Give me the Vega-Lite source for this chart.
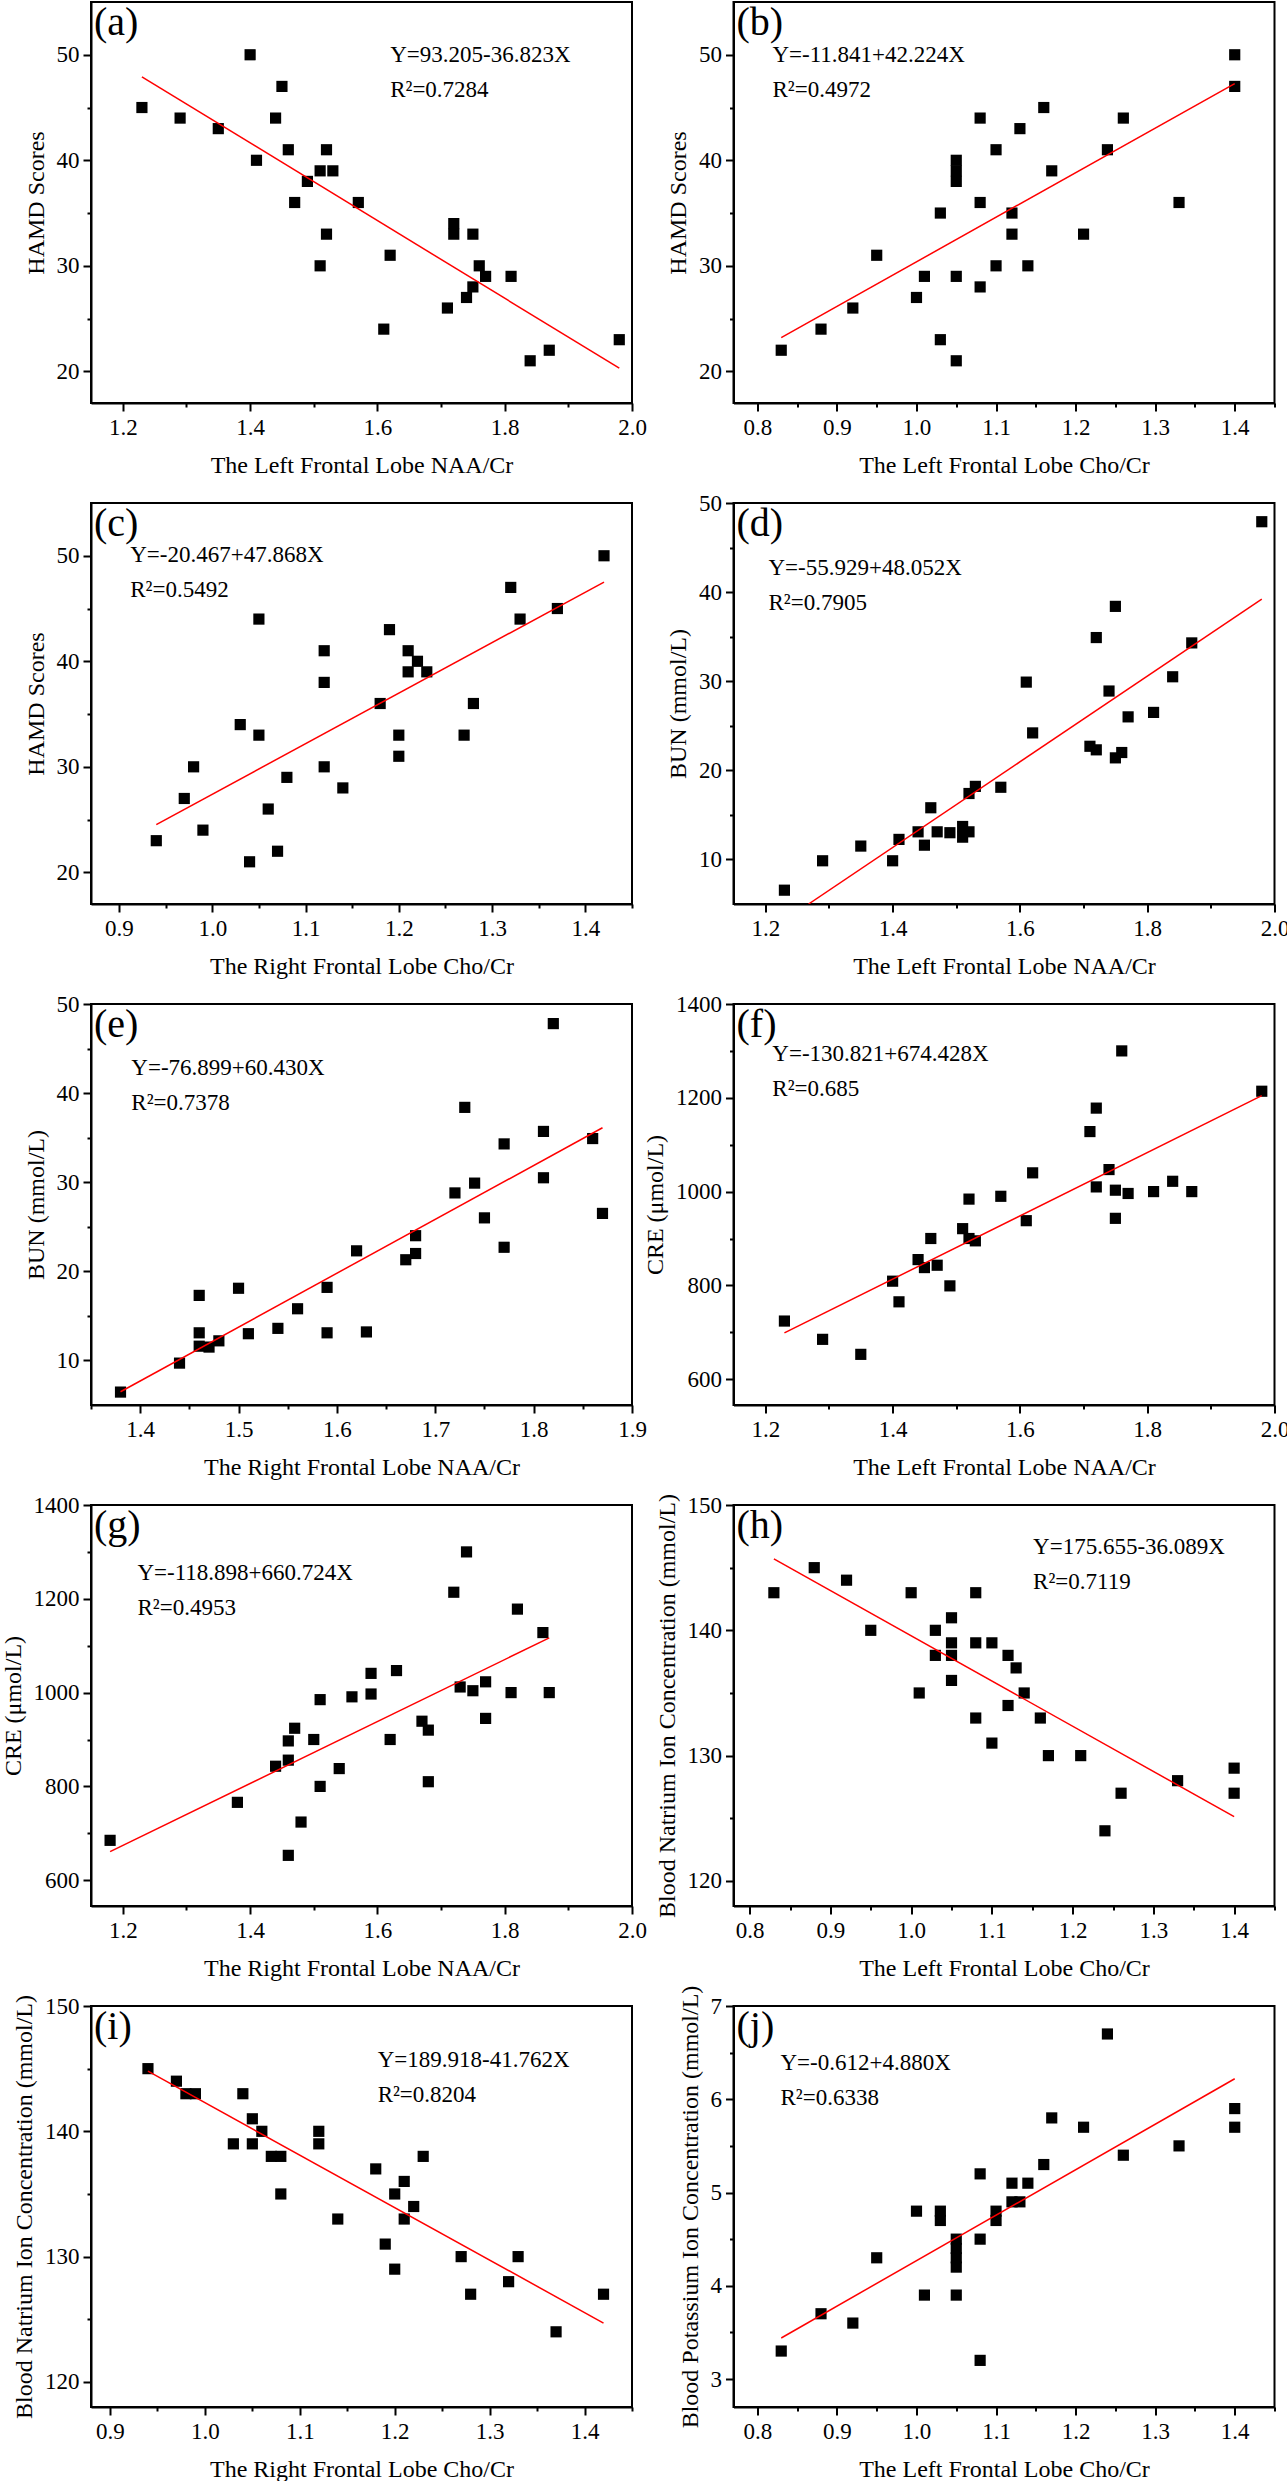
{
"$schema": "https://vega.github.io/schema/vega-lite/v6.json",
"padding": {"left": 0, "top": 1, "right": 2, "bottom": 2},
"autosize": {"type": "pad"},
"columns": 2,
"bounds": "flush",
"spacing": {"row": 100, "column": 101.5},
"datasets": {
"a": [{"x":1.23,"y":45},{"x":1.29,"y":44},{"x":1.35,"y":43},{"x":1.40,"y":50},{"x":1.41,"y":40},{"x":1.44,"y":44},{"x":1.45,"y":47},{"x":1.46,"y":41},{"x":1.47,"y":36},{"x":1.49,"y":38},{"x":1.51,"y":39},{"x":1.51,"y":30},{"x":1.52,"y":41},{"x":1.52,"y":33},{"x":1.53,"y":39},{"x":1.57,"y":36},{"x":1.61,"y":24},{"x":1.62,"y":31},{"x":1.71,"y":26},{"x":1.72,"y":34},{"x":1.72,"y":33},{"x":1.74,"y":27},{"x":1.75,"y":33},{"x":1.75,"y":28},{"x":1.76,"y":30},{"x":1.77,"y":29},{"x":1.81,"y":29},{"x":1.84,"y":21},{"x":1.87,"y":22},{"x":1.98,"y":23}],
"a_fit": [{"x":1.23,"y":47.91},{"x":1.98,"y":20.30}],
"b": [{"x":0.83,"y":22},{"x":0.88,"y":24},{"x":0.92,"y":26},{"x":0.95,"y":31},{"x":1.00,"y":27},{"x":1.01,"y":29},{"x":1.03,"y":35},{"x":1.03,"y":23},{"x":1.05,"y":40},{"x":1.05,"y":39},{"x":1.05,"y":38},{"x":1.05,"y":29},{"x":1.05,"y":21},{"x":1.08,"y":44},{"x":1.08,"y":36},{"x":1.08,"y":28},{"x":1.10,"y":41},{"x":1.10,"y":30},{"x":1.12,"y":35},{"x":1.12,"y":33},{"x":1.13,"y":43},{"x":1.14,"y":30},{"x":1.16,"y":45},{"x":1.17,"y":39},{"x":1.21,"y":33},{"x":1.24,"y":41},{"x":1.26,"y":44},{"x":1.33,"y":36},{"x":1.40,"y":50},{"x":1.40,"y":47}],
"b_fit": [{"x":0.83,"y":23.20},{"x":1.40,"y":47.27}],
"c": [{"x":0.94,"y":23},{"x":0.97,"y":27},{"x":0.98,"y":30},{"x":0.99,"y":24},{"x":1.03,"y":34},{"x":1.04,"y":21},{"x":1.05,"y":44},{"x":1.05,"y":33},{"x":1.06,"y":26},{"x":1.07,"y":22},{"x":1.08,"y":29},{"x":1.12,"y":41},{"x":1.12,"y":38},{"x":1.12,"y":30},{"x":1.14,"y":28},{"x":1.18,"y":36},{"x":1.19,"y":43},{"x":1.20,"y":33},{"x":1.20,"y":31},{"x":1.21,"y":41},{"x":1.21,"y":39},{"x":1.22,"y":40},{"x":1.23,"y":39},{"x":1.27,"y":33},{"x":1.28,"y":36},{"x":1.32,"y":47},{"x":1.33,"y":44},{"x":1.37,"y":45},{"x":1.42,"y":50}],
"c_fit": [{"x":0.94,"y":24.53},{"x":1.42,"y":47.51}],
"d": [{"x":1.23,"y":6.55},{"x":1.29,"y":9.85},{"x":1.35,"y":11.5},{"x":1.40,"y":9.85},{"x":1.41,"y":12.25},{"x":1.44,"y":13.1},{"x":1.45,"y":11.6},{"x":1.46,"y":15.8},{"x":1.47,"y":13.1},{"x":1.49,"y":13.0},{"x":1.51,"y":13.7},{"x":1.51,"y":12.5},{"x":1.52,"y":17.4},{"x":1.52,"y":13.1},{"x":1.53,"y":18.2},{"x":1.57,"y":18.1},{"x":1.61,"y":29.9},{"x":1.62,"y":24.2},{"x":1.71,"y":22.7},{"x":1.72,"y":34.9},{"x":1.72,"y":22.3},{"x":1.74,"y":28.9},{"x":1.75,"y":38.4},{"x":1.75,"y":21.4},{"x":1.76,"y":22.0},{"x":1.77,"y":26.0},{"x":1.81,"y":26.5},{"x":1.84,"y":30.5},{"x":1.87,"y":34.3},{"x":1.98,"y":47.9}],
"d_fit": [{"x":1.268,"y":5.0},{"x":1.98,"y":39.21}],
"e": [{"x":1.38,"y":6.45},{"x":1.44,"y":9.7},{"x":1.46,"y":17.3},{"x":1.46,"y":13.1},{"x":1.46,"y":11.6},{"x":1.47,"y":11.5},{"x":1.48,"y":12.2},{"x":1.50,"y":18.1},{"x":1.51,"y":13.0},{"x":1.54,"y":13.6},{"x":1.56,"y":15.8},{"x":1.59,"y":13.1},{"x":1.59,"y":18.2},{"x":1.62,"y":22.3},{"x":1.63,"y":13.2},{"x":1.67,"y":21.3},{"x":1.68,"y":24.0},{"x":1.68,"y":22.0},{"x":1.72,"y":28.8},{"x":1.73,"y":38.4},{"x":1.74,"y":29.9},{"x":1.75,"y":26.0},{"x":1.77,"y":34.3},{"x":1.77,"y":22.7},{"x":1.81,"y":35.7},{"x":1.81,"y":30.5},{"x":1.82,"y":47.8},{"x":1.86,"y":34.9},{"x":1.87,"y":26.5}],
"e_fit": [{"x":1.38,"y":6.49},{"x":1.87,"y":36.11}],
"f": [{"x":1.23,"y":724},{"x":1.29,"y":685},{"x":1.35,"y":653},{"x":1.40,"y":809},{"x":1.41,"y":765},{"x":1.44,"y":855},{"x":1.45,"y":838},{"x":1.46,"y":900},{"x":1.47,"y":843},{"x":1.49,"y":799},{"x":1.51,"y":921},{"x":1.52,"y":984},{"x":1.52,"y":900},{"x":1.53,"y":895},{"x":1.57,"y":990},{"x":1.61,"y":938},{"x":1.62,"y":1040},{"x":1.71,"y":1128},{"x":1.72,"y":1178},{"x":1.72,"y":1010},{"x":1.74,"y":1047},{"x":1.76,"y":1300},{"x":1.75,"y":1003},{"x":1.75,"y":943},{"x":1.77,"y":996},{"x":1.81,"y":1000},{"x":1.84,"y":1022},{"x":1.87,"y":1000},{"x":1.98,"y":1214}],
"f_fit": [{"x":1.23,"y":698.7},{"x":1.98,"y":1204.5}],
"g": [{"x":1.18,"y":685},{"x":1.38,"y":766},{"x":1.44,"y":843},{"x":1.46,"y":897},{"x":1.46,"y":856},{"x":1.46,"y":653},{"x":1.47,"y":924},{"x":1.48,"y":724},{"x":1.50,"y":900},{"x":1.51,"y":985},{"x":1.51,"y":800},{"x":1.54,"y":838},{"x":1.56,"y":991},{"x":1.59,"y":1041},{"x":1.59,"y":997},{"x":1.62,"y":900},{"x":1.63,"y":1047},{"x":1.67,"y":939},{"x":1.68,"y":920},{"x":1.68,"y":810},{"x":1.72,"y":1214},{"x":1.73,"y":1012},{"x":1.74,"y":1300},{"x":1.75,"y":1004},{"x":1.77,"y":1023},{"x":1.77,"y":945},{"x":1.81,"y":1000},{"x":1.82,"y":1178},{"x":1.86,"y":1128},{"x":1.87,"y":1000}],
"g_fit": [{"x":1.18,"y":660.8},{"x":1.87,"y":1116.7}],
"h": [{"x":0.83,"y":143},{"x":0.88,"y":145},{"x":0.92,"y":144},{"x":0.95,"y":140},{"x":1.00,"y":143},{"x":1.01,"y":135},{"x":1.03,"y":140},{"x":1.03,"y":138},{"x":1.05,"y":141},{"x":1.05,"y":139},{"x":1.05,"y":138},{"x":1.05,"y":136},{"x":1.08,"y":143},{"x":1.08,"y":139},{"x":1.08,"y":133},{"x":1.10,"y":139},{"x":1.10,"y":131},{"x":1.12,"y":138},{"x":1.12,"y":134},{"x":1.13,"y":137},{"x":1.14,"y":135},{"x":1.16,"y":133},{"x":1.17,"y":130},{"x":1.21,"y":130},{"x":1.24,"y":124},{"x":1.26,"y":127},{"x":1.33,"y":128},{"x":1.40,"y":129},{"x":1.40,"y":127}],
"h_fit": [{"x":0.83,"y":145.70},{"x":1.40,"y":125.13}],
"i": [{"x":0.94,"y":145},{"x":0.97,"y":144},{"x":0.98,"y":143},{"x":0.99,"y":143},{"x":1.03,"y":139},{"x":1.04,"y":143},{"x":1.05,"y":141},{"x":1.05,"y":139},{"x":1.06,"y":140},{"x":1.07,"y":138},{"x":1.08,"y":138},{"x":1.08,"y":135},{"x":1.12,"y":140},{"x":1.12,"y":139},{"x":1.14,"y":133},{"x":1.18,"y":137},{"x":1.19,"y":131},{"x":1.20,"y":135},{"x":1.20,"y":129},{"x":1.21,"y":136},{"x":1.21,"y":133},{"x":1.22,"y":134},{"x":1.23,"y":138},{"x":1.27,"y":130},{"x":1.28,"y":127},{"x":1.32,"y":128},{"x":1.33,"y":130},{"x":1.37,"y":124},{"x":1.42,"y":127}],
"i_fit": [{"x":0.94,"y":144.8},{"x":1.42,"y":124.7}],
"j": [{"x":0.83,"y":3.3},{"x":0.88,"y":3.7},{"x":0.92,"y":3.6},{"x":0.95,"y":4.3},{"x":1.00,"y":4.8},{"x":1.01,"y":3.9},{"x":1.03,"y":4.8},{"x":1.03,"y":4.7},{"x":1.05,"y":4.5},{"x":1.05,"y":4.4},{"x":1.05,"y":4.3},{"x":1.05,"y":4.2},{"x":1.05,"y":3.9},{"x":1.08,"y":5.2},{"x":1.08,"y":4.5},{"x":1.08,"y":3.2},{"x":1.10,"y":4.8},{"x":1.10,"y":4.7},{"x":1.12,"y":5.1},{"x":1.12,"y":4.9},{"x":1.13,"y":4.9},{"x":1.14,"y":5.1},{"x":1.16,"y":5.3},{"x":1.17,"y":5.8},{"x":1.21,"y":5.7},{"x":1.24,"y":6.7},{"x":1.26,"y":5.4},{"x":1.33,"y":5.5},{"x":1.40,"y":5.9},{"x":1.40,"y":5.7}],
"j_fit": [{"x":0.83,"y":3.44},{"x":1.40,"y":6.22}]
},
"concat": [
{"width": 541, "height": 401, "layer": [
 {"data": {"name": "a"}, "mark": {"type": "square", "size": 125, "color": "#000", "opacity": 1},
  "encoding": {
   "x": {"field": "x", "type": "quantitative", "scale": {"domain": [1.15, 2.0], "nice": false, "zero": false}, "axis": {"title": "The Left Frontal Lobe NAA/Cr", "values": [1.2,1.3,1.4,1.5,1.6,1.7,1.8,1.9,2.0], "labelExpr": "abs(datum.value*5-round(datum.value*5))<0.001 ? format(datum.value,'.1f') : ''", "tickSize": {"condition": {"test": "abs(datum.value*5-round(datum.value*5))<0.001", "value": 8}, "value": 4}}},
   "y": {"field": "y", "type": "quantitative", "scale": {"domain": [17, 55], "nice": false, "zero": false}, "axis": {"title": "HAMD Scores", "values": [20,25,30,35,40,45,50], "labelExpr": "datum.value%10==0 ? format(datum.value,'d') : ''", "tickSize": {"condition": {"test": "datum.value%10==0", "value": 8}, "value": 4}}}}},
 {"data": {"name": "a_fit"}, "mark": {"type": "line", "color": "#ff0000", "strokeWidth": 1.5}, "encoding": {"x": {"field": "x", "type": "quantitative"}, "y": {"field": "y", "type": "quantitative"}}},
 {"data": {"values": [{}]}, "mark": {"type": "text", "align": "left", "baseline": "top", "fontSize": 23, "lineHeight": 35, "color": "#000"}, "encoding": {"x": {"datum": 1.62}, "y": {"datum": 51.0}, "text": {"value": ["Y=93.205-36.823X", "R²=0.7284"]}}},
 {"data": {"values": [{}]}, "mark": {"type": "text", "align": "left", "baseline": "top", "fontSize": 40, "dx": 3, "dy": 1, "color": "#000"}, "encoding": {"x": {"datum": 1.15}, "y": {"datum": 55}, "text": {"value": "(a)"}}}
]},
{"width": 541, "height": 401, "layer": [
 {"data": {"name": "b"}, "mark": {"type": "square", "size": 125, "color": "#000", "opacity": 1},
  "encoding": {
   "x": {"field": "x", "type": "quantitative", "scale": {"domain": [0.77, 1.45], "nice": false, "zero": false}, "axis": {"title": "The Left Frontal Lobe Cho/Cr", "values": [0.8,0.85,0.9,0.95,1.0,1.05,1.1,1.15,1.2,1.25,1.3,1.35,1.4,1.45], "labelExpr": "abs(datum.value*10-round(datum.value*10))<0.001 ? format(datum.value,'.1f') : ''", "tickSize": {"condition": {"test": "abs(datum.value*10-round(datum.value*10))<0.001", "value": 8}, "value": 4}}},
   "y": {"field": "y", "type": "quantitative", "scale": {"domain": [17, 55], "nice": false, "zero": false}, "axis": {"title": "HAMD Scores", "values": [20,25,30,35,40,45,50], "labelExpr": "datum.value%10==0 ? format(datum.value,'d') : ''", "tickSize": {"condition": {"test": "datum.value%10==0", "value": 8}, "value": 4}}}}},
 {"data": {"name": "b_fit"}, "mark": {"type": "line", "color": "#ff0000", "strokeWidth": 1.5}, "encoding": {"x": {"field": "x", "type": "quantitative"}, "y": {"field": "y", "type": "quantitative"}}},
 {"data": {"values": [{}]}, "mark": {"type": "text", "align": "left", "baseline": "top", "fontSize": 23, "lineHeight": 35, "color": "#000"}, "encoding": {"x": {"datum": 0.819}, "y": {"datum": 51.0}, "text": {"value": ["Y=-11.841+42.224X", "R²=0.4972"]}}},
 {"data": {"values": [{}]}, "mark": {"type": "text", "align": "left", "baseline": "top", "fontSize": 40, "dx": 3, "dy": 1, "color": "#000"}, "encoding": {"x": {"datum": 0.77}, "y": {"datum": 55}, "text": {"value": "(b)"}}}
]},
{"width": 541, "height": 401, "layer": [
 {"data": {"name": "c"}, "mark": {"type": "square", "size": 125, "color": "#000", "opacity": 1},
  "encoding": {
   "x": {"field": "x", "type": "quantitative", "scale": {"domain": [0.87, 1.45], "nice": false, "zero": false}, "axis": {"title": "The Right Frontal Lobe Cho/Cr", "values": [0.9,0.95,1.0,1.05,1.1,1.15,1.2,1.25,1.3,1.35,1.4,1.45], "labelExpr": "abs(datum.value*10-round(datum.value*10))<0.001 ? format(datum.value,'.1f') : ''", "tickSize": {"condition": {"test": "abs(datum.value*10-round(datum.value*10))<0.001", "value": 8}, "value": 4}}},
   "y": {"field": "y", "type": "quantitative", "scale": {"domain": [17, 55], "nice": false, "zero": false}, "axis": {"title": "HAMD Scores", "values": [20,25,30,35,40,45,50], "labelExpr": "datum.value%10==0 ? format(datum.value,'d') : ''", "tickSize": {"condition": {"test": "datum.value%10==0", "value": 8}, "value": 4}}}}},
 {"data": {"name": "c_fit"}, "mark": {"type": "line", "color": "#ff0000", "strokeWidth": 1.5}, "encoding": {"x": {"field": "x", "type": "quantitative"}, "y": {"field": "y", "type": "quantitative"}}},
 {"data": {"values": [{}]}, "mark": {"type": "text", "align": "left", "baseline": "top", "fontSize": 23, "lineHeight": 35, "color": "#000"}, "encoding": {"x": {"datum": 0.912}, "y": {"datum": 51.07}, "text": {"value": ["Y=-20.467+47.868X", "R²=0.5492"]}}},
 {"data": {"values": [{}]}, "mark": {"type": "text", "align": "left", "baseline": "top", "fontSize": 40, "dx": 3, "dy": 1, "color": "#000"}, "encoding": {"x": {"datum": 0.87}, "y": {"datum": 55}, "text": {"value": "(c)"}}}
]},
{"width": 541, "height": 401, "layer": [
 {"data": {"name": "d"}, "mark": {"type": "square", "size": 125, "color": "#000", "opacity": 1},
  "encoding": {
   "x": {"field": "x", "type": "quantitative", "scale": {"domain": [1.15, 2.0], "nice": false, "zero": false}, "axis": {"title": "The Left Frontal Lobe NAA/Cr", "values": [1.2,1.3,1.4,1.5,1.6,1.7,1.8,1.9,2.0], "labelExpr": "abs(datum.value*5-round(datum.value*5))<0.001 ? format(datum.value,'.1f') : ''", "tickSize": {"condition": {"test": "abs(datum.value*5-round(datum.value*5))<0.001", "value": 8}, "value": 4}}},
   "y": {"field": "y", "type": "quantitative", "scale": {"domain": [5, 50], "nice": false, "zero": false}, "axis": {"title": "BUN (mmol/L)", "values": [10,15,20,25,30,35,40,45,50], "labelExpr": "datum.value%10==0 ? format(datum.value,'d') : ''", "tickSize": {"condition": {"test": "datum.value%10==0", "value": 8}, "value": 4}}}}},
 {"data": {"name": "d_fit"}, "mark": {"type": "line", "color": "#ff0000", "strokeWidth": 1.5, "clip": true}, "encoding": {"x": {"field": "x", "type": "quantitative"}, "y": {"field": "y", "type": "quantitative"}}},
 {"data": {"values": [{}]}, "mark": {"type": "text", "align": "left", "baseline": "top", "fontSize": 23, "lineHeight": 35, "color": "#000"}, "encoding": {"x": {"datum": 1.205}, "y": {"datum": 43.97}, "text": {"value": ["Y=-55.929+48.052X", "R²=0.7905"]}}},
 {"data": {"values": [{}]}, "mark": {"type": "text", "align": "left", "baseline": "top", "fontSize": 40, "dx": 3, "dy": 1, "color": "#000"}, "encoding": {"x": {"datum": 1.15}, "y": {"datum": 50}, "text": {"value": "(d)"}}}
]},
{"width": 541, "height": 401, "layer": [
 {"data": {"name": "e"}, "mark": {"type": "square", "size": 125, "color": "#000", "opacity": 1},
  "encoding": {
   "x": {"field": "x", "type": "quantitative", "scale": {"domain": [1.35, 1.9], "nice": false, "zero": false}, "axis": {"title": "The Right Frontal Lobe NAA/Cr", "values": [1.35,1.4,1.45,1.5,1.55,1.6,1.65,1.7,1.75,1.8,1.85,1.9], "labelExpr": "abs(datum.value*10-round(datum.value*10))<0.001 ? format(datum.value,'.1f') : ''", "tickSize": {"condition": {"test": "abs(datum.value*10-round(datum.value*10))<0.001", "value": 8}, "value": 4}}},
   "y": {"field": "y", "type": "quantitative", "scale": {"domain": [5, 50], "nice": false, "zero": false}, "axis": {"title": "BUN (mmol/L)", "values": [10,15,20,25,30,35,40,45,50], "labelExpr": "datum.value%10==0 ? format(datum.value,'d') : ''", "tickSize": {"condition": {"test": "datum.value%10==0", "value": 8}, "value": 4}}}}},
 {"data": {"name": "e_fit"}, "mark": {"type": "line", "color": "#ff0000", "strokeWidth": 1.5}, "encoding": {"x": {"field": "x", "type": "quantitative"}, "y": {"field": "y", "type": "quantitative"}}},
 {"data": {"values": [{}]}, "mark": {"type": "text", "align": "left", "baseline": "top", "fontSize": 23, "lineHeight": 35, "color": "#000"}, "encoding": {"x": {"datum": 1.391}, "y": {"datum": 44.1}, "text": {"value": ["Y=-76.899+60.430X", "R²=0.7378"]}}},
 {"data": {"values": [{}]}, "mark": {"type": "text", "align": "left", "baseline": "top", "fontSize": 40, "dx": 3, "dy": 1, "color": "#000"}, "encoding": {"x": {"datum": 1.35}, "y": {"datum": 50}, "text": {"value": "(e)"}}}
]},
{"width": 541, "height": 401, "layer": [
 {"data": {"name": "f"}, "mark": {"type": "square", "size": 125, "color": "#000", "opacity": 1},
  "encoding": {
   "x": {"field": "x", "type": "quantitative", "scale": {"domain": [1.15, 2.0], "nice": false, "zero": false}, "axis": {"title": "The Left Frontal Lobe NAA/Cr", "values": [1.2,1.3,1.4,1.5,1.6,1.7,1.8,1.9,2.0], "labelExpr": "abs(datum.value*5-round(datum.value*5))<0.001 ? format(datum.value,'.1f') : ''", "tickSize": {"condition": {"test": "abs(datum.value*5-round(datum.value*5))<0.001", "value": 8}, "value": 4}}},
   "y": {"field": "y", "type": "quantitative", "scale": {"domain": [545, 1400], "nice": false, "zero": false}, "axis": {"title": "CRE (μmol/L)", "values": [600,700,800,900,1000,1100,1200,1300,1400], "labelExpr": "datum.value%200==0 ? format(datum.value,'d') : ''", "tickSize": {"condition": {"test": "datum.value%200==0", "value": 8}, "value": 4}}}}},
 {"data": {"name": "f_fit"}, "mark": {"type": "line", "color": "#ff0000", "strokeWidth": 1.5}, "encoding": {"x": {"field": "x", "type": "quantitative"}, "y": {"field": "y", "type": "quantitative"}}},
 {"data": {"values": [{}]}, "mark": {"type": "text", "align": "left", "baseline": "top", "fontSize": 23, "lineHeight": 35, "color": "#000"}, "encoding": {"x": {"datum": 1.211}, "y": {"datum": 1317}, "text": {"value": ["Y=-130.821+674.428X", "R²=0.685"]}}},
 {"data": {"values": [{}]}, "mark": {"type": "text", "align": "left", "baseline": "top", "fontSize": 40, "dx": 3, "dy": 1, "color": "#000"}, "encoding": {"x": {"datum": 1.15}, "y": {"datum": 1400}, "text": {"value": "(f)"}}}
]},
{"width": 541, "height": 401, "layer": [
 {"data": {"name": "g"}, "mark": {"type": "square", "size": 125, "color": "#000", "opacity": 1},
  "encoding": {
   "x": {"field": "x", "type": "quantitative", "scale": {"domain": [1.15, 2.0], "nice": false, "zero": false}, "axis": {"title": "The Right Frontal Lobe NAA/Cr", "values": [1.2,1.3,1.4,1.5,1.6,1.7,1.8,1.9,2.0], "labelExpr": "abs(datum.value*5-round(datum.value*5))<0.001 ? format(datum.value,'.1f') : ''", "tickSize": {"condition": {"test": "abs(datum.value*5-round(datum.value*5))<0.001", "value": 8}, "value": 4}}},
   "y": {"field": "y", "type": "quantitative", "scale": {"domain": [545, 1400], "nice": false, "zero": false}, "axis": {"title": "CRE (μmol/L)", "values": [600,700,800,900,1000,1100,1200,1300,1400], "labelExpr": "datum.value%200==0 ? format(datum.value,'d') : ''", "tickSize": {"condition": {"test": "datum.value%200==0", "value": 8}, "value": 4}}}}},
 {"data": {"name": "g_fit"}, "mark": {"type": "line", "color": "#ff0000", "strokeWidth": 1.5}, "encoding": {"x": {"field": "x", "type": "quantitative"}, "y": {"field": "y", "type": "quantitative"}}},
 {"data": {"values": [{}]}, "mark": {"type": "text", "align": "left", "baseline": "top", "fontSize": 23, "lineHeight": 35, "color": "#000"}, "encoding": {"x": {"datum": 1.223}, "y": {"datum": 1278}, "text": {"value": ["Y=-118.898+660.724X", "R²=0.4953"]}}},
 {"data": {"values": [{}]}, "mark": {"type": "text", "align": "left", "baseline": "top", "fontSize": 40, "dx": 3, "dy": 1, "color": "#000"}, "encoding": {"x": {"datum": 1.15}, "y": {"datum": 1400}, "text": {"value": "(g)"}}}
]},
{"width": 541, "height": 401, "layer": [
 {"data": {"name": "h"}, "mark": {"type": "square", "size": 125, "color": "#000", "opacity": 1},
  "encoding": {
   "x": {"field": "x", "type": "quantitative", "scale": {"domain": [0.78, 1.45], "nice": false, "zero": false}, "axis": {"title": "The Left Frontal Lobe Cho/Cr", "values": [0.8,0.85,0.9,0.95,1.0,1.05,1.1,1.15,1.2,1.25,1.3,1.35,1.4,1.45], "labelExpr": "abs(datum.value*10-round(datum.value*10))<0.001 ? format(datum.value,'.1f') : ''", "tickSize": {"condition": {"test": "abs(datum.value*10-round(datum.value*10))<0.001", "value": 8}, "value": 4}}},
   "y": {"field": "y", "type": "quantitative", "scale": {"domain": [118, 150], "nice": false, "zero": false}, "axis": {"title": "Blood Natrium Ion Concentration (mmol/L)", "values": [120,125,130,135,140,145,150], "labelExpr": "datum.value%10==0 ? format(datum.value,'d') : ''", "tickSize": {"condition": {"test": "datum.value%10==0", "value": 8}, "value": 4}}}}},
 {"data": {"name": "h_fit"}, "mark": {"type": "line", "color": "#ff0000", "strokeWidth": 1.5}, "encoding": {"x": {"field": "x", "type": "quantitative"}, "y": {"field": "y", "type": "quantitative"}}},
 {"data": {"values": [{}]}, "mark": {"type": "text", "align": "left", "baseline": "top", "fontSize": 23, "lineHeight": 35, "color": "#000"}, "encoding": {"x": {"datum": 1.151}, "y": {"datum": 147.5}, "text": {"value": ["Y=175.655-36.089X", "R²=0.7119"]}}},
 {"data": {"values": [{}]}, "mark": {"type": "text", "align": "left", "baseline": "top", "fontSize": 40, "dx": 3, "dy": 1, "color": "#000"}, "encoding": {"x": {"datum": 0.78}, "y": {"datum": 150}, "text": {"value": "(h)"}}}
]},
{"width": 541, "height": 401, "layer": [
 {"data": {"name": "i"}, "mark": {"type": "square", "size": 125, "color": "#000", "opacity": 1},
  "encoding": {
   "x": {"field": "x", "type": "quantitative", "scale": {"domain": [0.88, 1.45], "nice": false, "zero": false}, "axis": {"title": "The Right Frontal Lobe Cho/Cr", "values": [0.9,0.95,1.0,1.05,1.1,1.15,1.2,1.25,1.3,1.35,1.4,1.45], "labelExpr": "abs(datum.value*10-round(datum.value*10))<0.001 ? format(datum.value,'.1f') : ''", "tickSize": {"condition": {"test": "abs(datum.value*10-round(datum.value*10))<0.001", "value": 8}, "value": 4}}},
   "y": {"field": "y", "type": "quantitative", "scale": {"domain": [118, 150], "nice": false, "zero": false}, "axis": {"title": "Blood Natrium Ion Concentration (mmol/L)", "values": [120,125,130,135,140,145,150], "labelExpr": "datum.value%10==0 ? format(datum.value,'d') : ''", "tickSize": {"condition": {"test": "datum.value%10==0", "value": 8}, "value": 4}}}}},
 {"data": {"name": "i_fit"}, "mark": {"type": "line", "color": "#ff0000", "strokeWidth": 1.5}, "encoding": {"x": {"field": "x", "type": "quantitative"}, "y": {"field": "y", "type": "quantitative"}}},
 {"data": {"values": [{}]}, "mark": {"type": "text", "align": "left", "baseline": "top", "fontSize": 23, "lineHeight": 35, "color": "#000"}, "encoding": {"x": {"datum": 1.182}, "y": {"datum": 146.6}, "text": {"value": ["Y=189.918-41.762X", "R²=0.8204"]}}},
 {"data": {"values": [{}]}, "mark": {"type": "text", "align": "left", "baseline": "top", "fontSize": 40, "dx": 3, "dy": 1, "color": "#000"}, "encoding": {"x": {"datum": 0.88}, "y": {"datum": 150}, "text": {"value": "(i)"}}}
]},
{"width": 541, "height": 401, "layer": [
 {"data": {"name": "j"}, "mark": {"type": "square", "size": 125, "color": "#000", "opacity": 1},
  "encoding": {
   "x": {"field": "x", "type": "quantitative", "scale": {"domain": [0.77, 1.45], "nice": false, "zero": false}, "axis": {"title": "The Left Frontal Lobe Cho/Cr", "values": [0.8,0.85,0.9,0.95,1.0,1.05,1.1,1.15,1.2,1.25,1.3,1.35,1.4,1.45], "labelExpr": "abs(datum.value*10-round(datum.value*10))<0.001 ? format(datum.value,'.1f') : ''", "tickSize": {"condition": {"test": "abs(datum.value*10-round(datum.value*10))<0.001", "value": 8}, "value": 4}}},
   "y": {"field": "y", "type": "quantitative", "scale": {"domain": [2.7, 7], "nice": false, "zero": false}, "axis": {"title": "Blood Potassium Ion Concentration (mmol/L)", "values": [3,3.5,4,4.5,5,5.5,6,6.5,7], "labelExpr": "datum.value%1==0 ? format(datum.value,'d') : ''", "tickSize": {"condition": {"test": "datum.value%1==0", "value": 8}, "value": 4}}}}},
 {"data": {"name": "j_fit"}, "mark": {"type": "line", "color": "#ff0000", "strokeWidth": 1.5}, "encoding": {"x": {"field": "x", "type": "quantitative"}, "y": {"field": "y", "type": "quantitative"}}},
 {"data": {"values": [{}]}, "mark": {"type": "text", "align": "left", "baseline": "top", "fontSize": 23, "lineHeight": 35, "color": "#000"}, "encoding": {"x": {"datum": 0.829}, "y": {"datum": 6.51}, "text": {"value": ["Y=-0.612+4.880X", "R²=0.6338"]}}},
 {"data": {"values": [{}]}, "mark": {"type": "text", "align": "left", "baseline": "top", "fontSize": 40, "dx": 3, "dy": 1, "color": "#000"}, "encoding": {"x": {"datum": 0.77}, "y": {"datum": 7}, "text": {"value": "(j)"}}}
]}
],
"config": {
 "font": "Liberation Serif",
 "background": "#ffffff",
 "view": {"stroke": "#000", "strokeWidth": 2},
 "text": {"font": "Liberation Serif"},
 "axis": {"grid": false, "domainColor": "#000", "domainWidth": 2, "tickColor": "#000", "tickWidth": 2, "labelColor": "#000", "labelFont": "Liberation Serif", "labelFontSize": 23, "titleFont": "Liberation Serif", "titleFontSize": 24, "titleFontWeight": "normal", "titleColor": "#000", "titleLimit": 1000, "labelFlush": false, "labelOverlap": false},
 "axisX": {"labelPadding": 5, "titlePadding": 14},
 "axisY": {"labelPadding": 4, "titlePadding": 8}
}
}
